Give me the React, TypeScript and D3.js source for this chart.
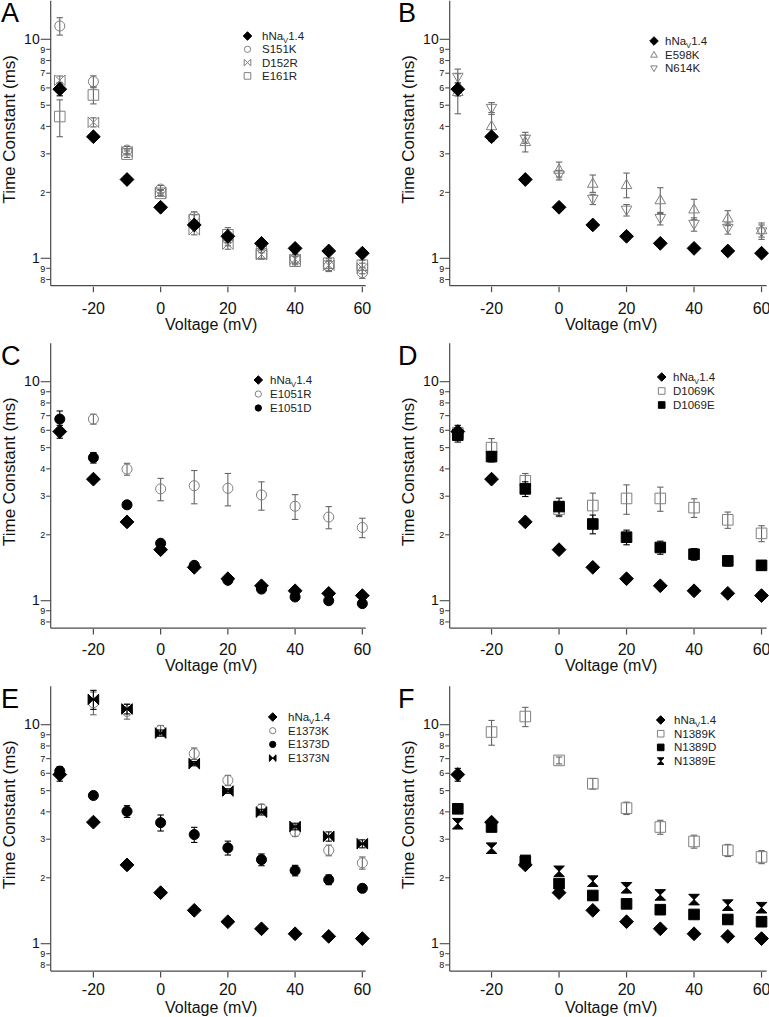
import React from "react";
import * as d3 from "d3";

// ---------------- DATA ----------------
const voltages = [-30, -20, -10, 0, 10, 20, 30, 40, 50, 60];
const xTicks = [-20, 0, 20, 40, 60];
const yMajorTicks = [1, 10];
const yMinorTicks = [0.8, 0.9, 2, 3, 4, 5, 6, 7, 8, 9];

const wtMean = [5.92, 3.59, 2.29, 1.71, 1.42, 1.26, 1.17, 1.11, 1.08, 1.055];
const wtErr = [0.4, 0.1, 0.08, 0.05, 0.04, 0.03, 0.03, 0.02, 0.02, 0.02];

const s151kMean = [11.5, 6.41, 3.12, 2.07, 1.55, 1.22, 1.12, 1.0, 0.92, 0.86];
const s151kErr = [1.05, 0.4, 0.12, 0.08, 0.08, 0.08, 0.06, 0.05, 0.05, 0.05];
const d152rMean = [6.5, 4.18, 3.07, 2.0, 1.35, 1.16, 1.04, 0.99, 0.93, 0.9];
const d152rErr = [0.3, 0.2, 0.1, 0.06, 0.07, 0.06, 0.05, 0.05, 0.05, 0.05];
const e161rMean = [4.44, 5.57, 2.99, 1.98, 1.5, 1.28, 1.05, 0.97, 0.95, 0.93];
const e161rErr = [0.85, 0.5, 0.1, 0.06, 0.08, 0.1, 0.05, 0.05, 0.05, 0.05];

const e598kMean = [5.77, 4.03, 3.41, 2.55, 2.2, 2.17, 1.85, 1.68, 1.53, 1.35];
const e598kErr = [1.2, 0.6, 0.35, 0.2, 0.2, 0.28, 0.25, 0.18, 0.12, 0.1];
const n614kMean = [6.71, 4.84, 3.5, 2.4, 1.86, 1.66, 1.52, 1.43, 1.37, 1.32];
const n614kErr = [0.6, 0.3, 0.15, 0.12, 0.1, 0.1, 0.1, 0.1, 0.08, 0.1];

const e1051rMean = [null, 6.75, 3.99, 3.24, 3.35, 3.26, 3.04, 2.7, 2.41, 2.16];
const e1051rErr = [0, 0.35, 0.25, 0.38, 0.58, 0.55, 0.45, 0.35, 0.28, 0.22];
const e1051dMean = [6.75, 4.5, 2.74, 1.83, 1.45, 1.24, 1.13, 1.04, 1.0, 0.97];
const e1051dErr = [0.6, 0.25, 0.08, 0.05, 0.04, 0.03, 0.03, 0.03, 0.03, 0.02];

const d1069kMean = [5.85, 5.0, 3.53, 2.62, 2.72, 2.93, 2.93, 2.66, 2.34, 2.03];
const d1069kErr = [0.3, 0.5, 0.28, 0.2, 0.38, 0.45, 0.37, 0.26, 0.2, 0.17];
const d1069eMean = [5.7, 4.55, 3.24, 2.69, 2.24, 1.95, 1.75, 1.63, 1.52, 1.45];
const d1069eErr = [0.4, 0.25, 0.25, 0.25, 0.22, 0.15, 0.12, 0.1, 0.08, 0.07];

const e1373kMean = [null, 12.6, 11.5, 9.42, 7.38, 5.57, 4.13, 3.24, 2.67, 2.34];
const e1373kErr = [0, 1.5, 0.9, 0.5, 0.45, 0.3, 0.2, 0.15, 0.15, 0.15];
const e1373dMean = [6.14, 4.75, 4.02, 3.57, 3.15, 2.74, 2.42, 2.16, 1.96, 1.79];
const e1373dErr = [0.3, 0.1, 0.25, 0.3, 0.25, 0.2, 0.15, 0.12, 0.1, 0.07];
const e1373nMean = [null, 13.05, 11.8, 9.16, 6.64, 4.98, 3.99, 3.43, 3.09, 2.86];
const e1373nErr = [0, 1.3, 0.6, 0.3, 0.15, 0.12, 0.12, 0.12, 0.15, 0.12];

const n1389kMean = [null, 9.26, 10.9, 6.87, 5.38, 4.16, 3.41, 2.93, 2.67, 2.49];
const n1389kErr = [0, 1.2, 1.1, 0.25, 0.3, 0.27, 0.25, 0.2, 0.17, 0.17];
const n1389dMean = [4.13, 3.41, 2.38, 1.88, 1.66, 1.52, 1.43, 1.36, 1.29, 1.26];
const n1389dErr = [0.15, 0.1, 0.05, 0.05, 0.05, 0.04, 0.04, 0.04, 0.04, 0.04];
const n1389eMean = [3.53, 2.73, 2.4, 2.14, 1.93, 1.8, 1.67, 1.59, 1.5, 1.46];
const n1389eErr = [0.15, 0.1, 0.05, 0.08, 0.07, 0.06, 0.06, 0.06, 0.05, 0.05];

// ---------------- STYLE / LAYOUT ----------------
const FONT = "'Liberation Sans', Arial, Helvetica, sans-serif";
const AXIS = "#4a4a4a";
const GRAY = "#808080";

type Sym = "diamond" | "circle" | "square" | "triUp" | "triDown" | "bowtie" | "hourglass";
interface Series { name: string; mean: (number | null)[]; err: number[]; sym: Sym; filled: boolean; }

const WT: Series = { name: "WT", mean: wtMean, err: wtErr, sym: "diamond", filled: true };

const cols = [
  { x0: 50.7, x1: 365.7, dom: [-32.7, 61] },
  { x0: 449.7, x1: 766.6, dom: [-32.4, 61.5] },
];
const rows = [
  { y10: 39.3, tickOff: 28.5, labOff: 44 },
  { y10: 381.7, tickOff: 26.5, labOff: 42.5 },
  { y10: 724.7, tickOff: 23.5, labOff: 41.5 },
];

const panels = [
  {
    letter: "A", col: 0, row: 0,
    series: [
      { name: "S151K", mean: s151kMean, err: s151kErr, sym: "circle", filled: false },
      { name: "D152R", mean: d152rMean, err: d152rErr, sym: "bowtie", filled: false },
      { name: "E161R", mean: e161rMean, err: e161rErr, sym: "square", filled: false },
    ] as Series[],
    legend: { mx: 247.5, tx: 262, y0: 36, dy: 13.3 },
  },
  {
    letter: "B", col: 1, row: 0,
    series: [
      { name: "E598K", mean: e598kMean, err: e598kErr, sym: "triUp", filled: false },
      { name: "N614K", mean: n614kMean, err: n614kErr, sym: "triDown", filled: false },
    ] as Series[],
    legend: { mx: 654, tx: 665, y0: 41, dy: 13.7 },
  },
  {
    letter: "C", col: 0, row: 1,
    series: [
      { name: "E1051R", mean: e1051rMean, err: e1051rErr, sym: "circle", filled: false },
      { name: "E1051D", mean: e1051dMean, err: e1051dErr, sym: "circle", filled: true },
    ] as Series[],
    legend: { mx: 258.3, tx: 270, y0: 380, dy: 14 },
  },
  {
    letter: "D", col: 1, row: 1,
    series: [
      { name: "D1069K", mean: d1069kMean, err: d1069kErr, sym: "square", filled: false },
      { name: "D1069E", mean: d1069eMean, err: d1069eErr, sym: "square", filled: true },
    ] as Series[],
    legend: { mx: 661.7, tx: 673, y0: 377, dy: 14 },
  },
  {
    letter: "E", col: 0, row: 2,
    series: [
      { name: "E1373K", mean: e1373kMean, err: e1373kErr, sym: "circle", filled: false },
      { name: "E1373D", mean: e1373dMean, err: e1373dErr, sym: "circle", filled: true },
      { name: "E1373N", mean: e1373nMean, err: e1373nErr, sym: "bowtie", filled: true },
    ] as Series[],
    legend: { mx: 272.7, tx: 288, y0: 717, dy: 13.7 },
  },
  {
    letter: "F", col: 1, row: 2,
    series: [
      { name: "N1389K", mean: n1389kMean, err: n1389kErr, sym: "square", filled: false },
      { name: "N1389D", mean: n1389dMean, err: n1389dErr, sym: "square", filled: true },
      { name: "N1389E", mean: n1389eMean, err: n1389eErr, sym: "hourglass", filled: true },
    ] as Series[],
    legend: { mx: 660.7, tx: 674, y0: 720, dy: 13.7 },
  },
];

function symbolPath(sym: Sym, s: number): string {
  switch (sym) {
    case "diamond": return `M0,${-s}L${s},0L0,${s}L${-s},0Z`;
    case "square": return `M${-s},${-s}H${s}V${s}H${-s}Z`;
    case "triUp": return `M0,${-s}L${s},${s * 0.75}L${-s},${s * 0.75}Z`;
    case "triDown": return `M0,${s}L${s},${-s * 0.75}L${-s},${-s * 0.75}Z`;
    case "bowtie": return `M${-s},${-s}L${s},${s}L${s},${-s}L${-s},${s}Z`;
    case "hourglass": return `M${-s},${-s}L${s},${-s}L${-s},${s}L${s},${s}Z`;
    default: return "";
  }
}

function Marker({ sym, filled, size, x, y }: { sym: Sym; filled: boolean; size: number; x: number; y: number }) {
  const fill = filled ? "#000" : "none";
  const stroke = filled ? "#000" : GRAY;
  if (sym === "circle") {
    return <circle cx={x} cy={y} r={size * 0.95} fill={fill} stroke={stroke} strokeWidth={1} />;
  }
  const s = sym === "diamond" ? size * 1.3 : size;
  return <path transform={`translate(${x},${y})`} d={symbolPath(sym, s)} fill={fill} stroke={stroke} strokeWidth={1} strokeLinejoin="miter" />;
}

function Panel({ p }: { p: (typeof panels)[number] }) {
  const c = cols[p.col];
  const r = rows[p.row];
  const x = d3.scaleLinear().domain(c.dom).range([c.x0, c.x1]);
  const y = d3.scaleLog().domain([1, 10]).range([r.y10 + 219, r.y10]);
  const yTop = y(15);
  const yBot = y(0.75);
  const all: Series[] = [...p.series, WT];
  const size = 5.3;
  const cap = 3.2;
  return (
    <g>
      {/* panel letter */}
      <text x={p.col === 0 ? 1 : 398} y={r.y10 - 17} fontSize={27} fontFamily={FONT} fill="#000">{p.letter}</text>
      {/* axes */}
      <line x1={c.x0} x2={c.x0} y1={yTop} y2={yBot} stroke={AXIS} strokeWidth={1.2} />
      <line x1={c.x0} x2={c.x1} y1={yBot} y2={yBot} stroke={AXIS} strokeWidth={1.2} />
      {xTicks.map((t) => (
        <g key={"xt" + t}>
          <line x1={x(t)} x2={x(t)} y1={yBot + 1} y2={yBot + 6.5} stroke={AXIS} strokeWidth={1.2} />
          <text x={x(t)} y={yBot + r.tickOff} textAnchor="middle" fontSize={16} fontFamily={FONT} fill="#111">{t}</text>
        </g>
      ))}
      {yMajorTicks.map((t) => (
        <g key={"ym" + t}>
          <line x1={c.x0 - 10} x2={c.x0} y1={y(t)} y2={y(t)} stroke={AXIS} strokeWidth={1.1} />
          <text x={c.x0 - 11} y={y(t) + 4.5} textAnchor="end" fontSize={14} fontFamily={FONT} fill="#111">{t}</text>
        </g>
      ))}
      {yMinorTicks.map((t) => (
        <g key={"yn" + t}>
          <line x1={c.x0 - 4.5} x2={c.x0} y1={y(t)} y2={y(t)} stroke={AXIS} strokeWidth={1.1} />
          <text x={c.x0 - 5.5} y={y(t) + 3.2} textAnchor="end" fontSize={9} fontFamily={FONT} fill="#111">{t < 1 ? Math.round(t * 10) : t}</text>
        </g>
      ))}
      <text x={(c.x0 + c.x1) / 2 + 3} y={yBot + r.labOff} textAnchor="middle" fontSize={16} fontFamily={FONT} fill="#111">Voltage (mV)</text>
      <text transform={`translate(${c.x0 - 35.5},${r.y10 + 90}) rotate(-90)`} textAnchor="middle" fontSize={17} fontFamily={FONT} fill="#111">Time Constant (ms)</text>
      {/* error bars */}
      {all.map((s) => (
        <g key={"eb" + s.name} stroke={s.filled ? "#000" : "#666"} strokeWidth={1.1}>
          {voltages.map((v, i) => {
            const m = s.mean[i];
            if (m == null || !s.err[i]) return null;
            const hi = y(m + s.err[i]);
            const lo = y(Math.max(m - s.err[i], 0.76));
            const xv = x(v);
            return (
              <g key={i}>
                <line x1={xv} x2={xv} y1={hi} y2={lo} />
                <line x1={xv - cap} x2={xv + cap} y1={hi} y2={hi} />
                <line x1={xv - cap} x2={xv + cap} y1={lo} y2={lo} />
              </g>
            );
          })}
        </g>
      ))}
      {/* markers */}
      {all.map((s) => (
        <g key={"mk" + s.name}>
          {voltages.map((v, i) => {
            const m = s.mean[i];
            if (m == null) return null;
            return <Marker key={i} sym={s.sym} filled={s.filled} size={size} x={x(v)} y={y(m)} />;
          })}
        </g>
      ))}
      {/* legend */}
      {[WT, ...p.series].map((s, i) => {
        const ly = p.legend.y0 + i * p.legend.dy;
        return (
          <g key={"lg" + s.name}>
            <Marker sym={s.sym} filled={s.filled} size={3.3} x={p.legend.mx} y={ly} />
            <text x={p.legend.tx} y={ly + 4} fontSize={11.5} fontFamily={FONT} fill="#222">
              {s.name === "WT" ? (
                <>
                  hNa<tspan fontSize={7.5} dy={2.5}>V</tspan><tspan dy={-2.5}>1.4</tspan>
                </>
              ) : s.name}
            </text>
          </g>
        );
      })}
    </g>
  );
}

export default function App() {
  return (
    <svg width={769} height={1017} style={{ position: "absolute", left: 0, top: 0, background: "#fff" }}>
      <rect width={769} height={1017} fill="#fff" />
      {panels.map((p) => (
        <Panel key={p.letter} p={p} />
      ))}
    </svg>
  );
}
